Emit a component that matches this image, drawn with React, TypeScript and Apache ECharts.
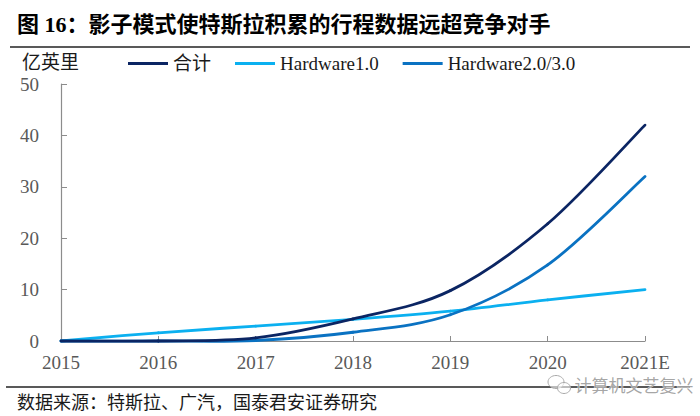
import React, { useEffect, useRef } from "react";
import * as echarts from "echarts";

const categories = ["2015", "2016", "2017", "2018", "2019", "2020", "2021E"];
const totalValues = [0, 0, 0.6, 4.3, 9.8, 22.8, 42];
const hw1Values = [0, 1.6, 2.9, 4.2, 5.8, 8, 10];
const hw23Values = [0, 0, 0.1, 1.7, 5.1, 14.8, 32];
const seriesNames = ["合计", "Hardware1.0", "Hardware2.0/3.0"];
const seriesColors = ["#0B2563", "#0BB0F0", "#0A72C2"];

const titleText = "图 16：影子模式使特斯拉积累的行程数据远超竞争对手";
const unitText = "亿英里";
const sourceText = "数据来源：特斯拉、广汽，国泰君安证券研究";
const watermarkText = "计算机文艺复兴";

const SERIF = "'Liberation Serif', 'Times New Roman', 'Noto Sans CJK SC', serif";

export default function App() {
  const ref = useRef<HTMLDivElement>(null);
  useEffect(() => {
    document.body.style.margin = "0";
    if (!ref.current) return;
    const chart = echarts.init(ref.current, undefined, { renderer: "svg" });
    const dataSets = [totalValues, hw1Values, hw23Values];

    const makeRender = (values: number[], color: string) => (params: any, api: any) => {
      const i = params.dataIndex;
      const n = values.length;
      if (i >= n - 1) return null;
      const pt = (k: number) => {
        const kk = Math.max(0, Math.min(n - 1, k));
        return api.coord([kk, values[kk]]);
      };
      const p0 = pt(i - 1);
      const p1 = pt(i);
      const p2 = pt(i + 1);
      const p3 = pt(i + 2);
      const t = 1 / 6;
      return {
        type: "bezierCurve",
        shape: {
          x1: p1[0],
          y1: p1[1],
          cpx1: p1[0] + (p2[0] - p0[0]) * t,
          cpy1: p1[1] + (p2[1] - p0[1]) * t,
          cpx2: p2[0] - (p3[0] - p1[0]) * t,
          cpy2: p2[1] - (p3[1] - p1[1]) * t,
          x2: p2[0],
          y2: p2[1],
        },
        style: { stroke: color, lineWidth: 2.8, fill: "none", lineCap: "round" },
      };
    };

    chart.setOption({
      animation: false,
      backgroundColor: "#ffffff",
      grid: { left: 61, right: 55, top: 84, bottom: 75, containLabel: false },
      legend: {
        left: 128,
        top: 54,
        padding: 0,
        itemWidth: 40,
        itemHeight: 3,
        itemGap: 24,
        icon: "rect",
        textStyle: { fontFamily: SERIF, fontSize: 19, color: "#1a1a1a" },
        data: seriesNames,
      },
      xAxis: {
        type: "category",
        data: categories,
        boundaryGap: false,
        axisLine: { lineStyle: { color: "#8c8c8c", width: 1.2 } },
        axisTick: { show: true, inside: true, length: 5, lineStyle: { color: "#8c8c8c" } },
        axisLabel: { fontFamily: SERIF, fontSize: 19, color: "#595959", margin: 12 },
        splitLine: { show: false },
      },
      yAxis: {
        type: "value",
        min: 0,
        max: 50,
        interval: 10,
        axisLine: { show: true, lineStyle: { color: "#8c8c8c", width: 1.2 } },
        axisTick: { show: true, inside: true, length: 6, lineStyle: { color: "#8c8c8c" } },
        axisLabel: { fontFamily: SERIF, fontSize: 19, color: "#595959", margin: 22 },
        splitLine: { show: false },
      },
      series: seriesNames.map((name, i) => ({
        name,
        type: "custom",
        data: dataSets[i].map((v, idx) => [idx, v]),
        encode: { x: 0, y: 1 },
        renderItem: makeRender(dataSets[i], seriesColors[i]),
        z: i === 0 ? 4 : i === 2 ? 3 : 2,
        itemStyle: { color: seriesColors[i] },
        clip: false,
      })),
      graphic: [
        {
          type: "text",
          left: 17,
          top: 13,
          style: {
            text: titleText,
            fontFamily: "'Liberation Serif', 'Noto Sans CJK SC', serif",
            fontWeight: "bold",
            fontSize: 22,
            fill: "#000000",
          },
        },
        {
          type: "line",
          shape: { x1: 10, y1: 47, x2: 690, y2: 47 },
          style: { stroke: "#222222", lineWidth: 1.5 },
        },
        {
          type: "text",
          left: 22,
          top: 53,
          style: { text: unitText, fontFamily: SERIF, fontSize: 19, fill: "#1a1a1a" },
        },
        {
          type: "line",
          shape: { x1: 6, y1: 387, x2: 690, y2: 387 },
          style: { stroke: "#222222", lineWidth: 1.5 },
        },
        {
          type: "text",
          left: 17,
          top: 394,
          style: { text: sourceText, fontFamily: SERIF, fontSize: 18, fill: "#1a1a1a" },
        },
        {
          type: "ellipse",
          shape: { cx: 556, cy: 382, rx: 8, ry: 6.5 },
          style: { fill: "rgba(255,255,255,0.6)", stroke: "#aaaaaa", lineWidth: 1 },
          z: 10,
        },
        {
          type: "ellipse",
          shape: { cx: 564, cy: 388, rx: 6.5, ry: 5.5 },
          style: { fill: "rgba(255,255,255,0.6)", stroke: "#aaaaaa", lineWidth: 1 },
          z: 10,
        },
        {
          type: "text",
          left: 574,
          top: 375,
          z: 10,
          style: {
            text: watermarkText,
            fontFamily: "'Noto Sans CJK SC', sans-serif",
            fontSize: 17,
            fill: "rgba(150,150,150,0.85)",
            stroke: "rgba(255,255,255,0.7)",
            lineWidth: 1,
          },
        },
      ],
    });
    return () => chart.dispose();
  }, []);
  return <div ref={ref} style={{ width: 700, height: 416 }} />;
}
